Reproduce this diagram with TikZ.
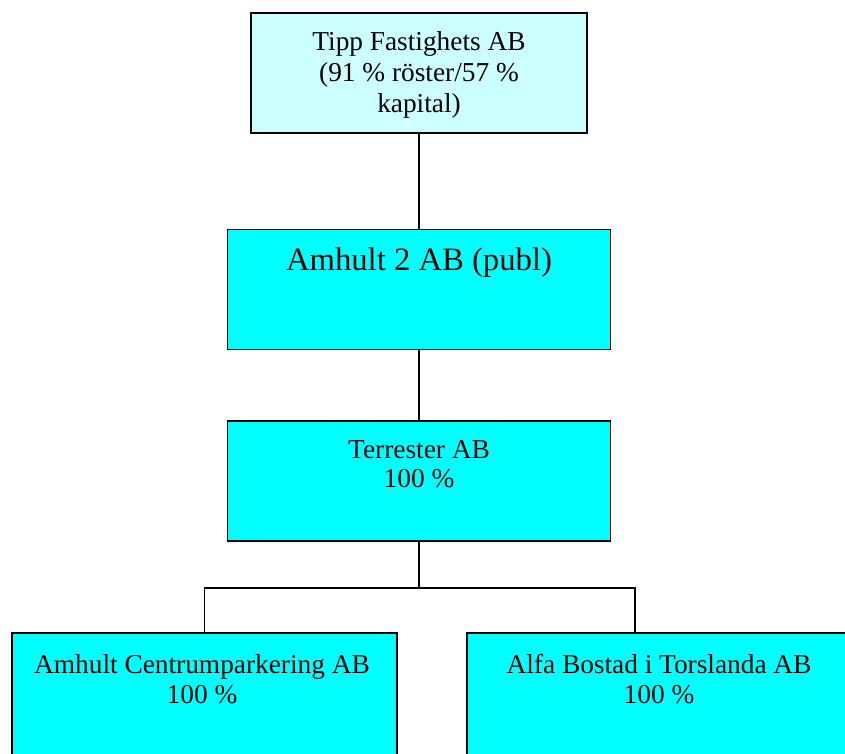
\documentclass[tikz,border=0pt]{standalone}
\usepackage{fontspec}
\setmainfont{Liberation Serif}
\usepackage{tikz}
\definecolor{ljus}{HTML}{CCFFFF}
\definecolor{cyan1}{HTML}{00FFFF}

\begin{document}
\begin{tikzpicture}[x=0.75pt,y=-0.75pt,line width=1.2pt,
	box/.style ={rectangle, draw=black, fill=cyan1, line width=1.2pt, minimum width=383*0.75pt, minimum height=120*0.75pt, inner sep=0pt},
	txt/.style ={align=center, anchor=base, inner sep=0pt, font=\fontsize{20.5}{22.5}\selectfont}]
		\useasboundingbox (0,0) rectangle (845,753);
		\node[box,fill=ljus,minimum width=336*0.75pt] (b1) at (419,73) {};
		\node[box] (b2) at (419,289.5) {};
		\node[box] (b3) at (419,481) {};
		\node[box,minimum width=385*0.75pt,minimum height=135*0.75pt] (b4) at (204.5,700.5) {};
		\node[box,minimum width=386*0.75pt,minimum height=135*0.75pt] (b5) at (660,700.5) {};
		% base = last line
		\node[txt,font=\fontsize{20.5}{23.25}\selectfont] (t1) at (419,112) {Tipp Fastighets AB\\(91 \% röster/57 \%\\kapital)};
		\node[txt,font=\fontsize{24.5}{29}\selectfont] (t2) at (419,270) {Amhult 2 AB (publ)};
		\node[txt,font=\fontsize{20.5}{21.5}\selectfont] (t3) at (419,487) {Terrester AB\\100 \%};
		\node[txt] (t4) at (202,703) {Amhult Centrumparkering AB\\100 \%};
		\node[txt] (t5) at (659,703) {Alfa Bostad i Torslanda AB\\100 \%};
		\coordinate (split) at (419,588);
		\coordinate (b5top) at (635,633);
		\draw (b1.south)--(b2.north);
		\draw (b2.south)--(b3.north);
		\draw (b3.south)--(split);
		\draw (split) -| (b4.north);
		\draw (split) -| (b5top);
	\end{tikzpicture}
\end{document}
